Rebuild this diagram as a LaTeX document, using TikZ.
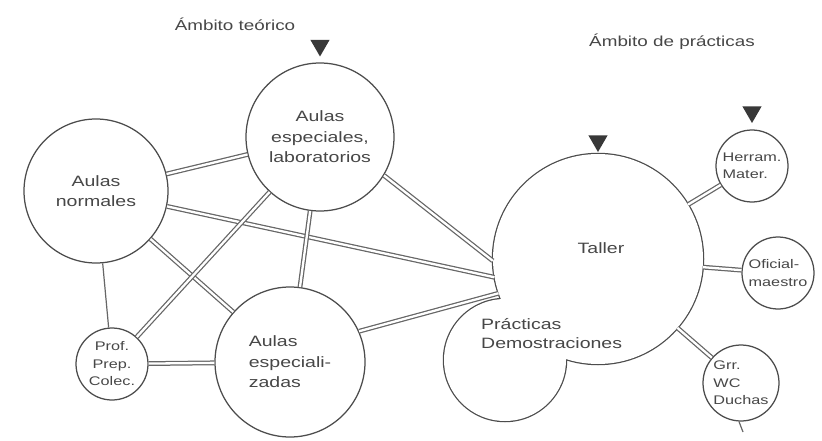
\documentclass[tikz,border=0pt]{standalone}
\usepackage{fontspec}
\usetikzlibrary{shapes.geometric}
\newfontfamily\dfont[FakeStretch=1.3]{Liberation Sans}
\definecolor{ink}{gray}{0.30}
\definecolor{linec}{gray}{0.40}
\definecolor{txtc}{gray}{0.28}
\definecolor{tric}{gray}{0.22}
\tikzset{
  bigc/.style={circle, draw=ink, line width=1.25pt, fill=white, inner sep=0pt,
    text=txtc, font=\dfont\fontsize{15}{20.5}\selectfont},
  smallc/.style={circle, draw=ink, line width=1.25pt, fill=white, inner sep=0pt,
    text=txtc, font=\dfont\fontsize{12.5}{17.5}\selectfont, minimum size=72pt},
  anchorc/.style={circle, inner sep=0pt},
  bigtext/.style={text=txtc, inner sep=0pt, font=\dfont\fontsize{15}{19}\selectfont},
  titletext/.style={text=txtc, inner sep=0pt, font=\dfont\fontsize{14.5}{18}\selectfont},
  dbl/.style={draw=linec, line width=1.25pt, double=white, double distance=2.3pt},
  thinline/.style={draw=linec, line width=1.2pt},
  tri/.style={regular polygon, regular polygon sides=3, shape border rotate=180,
    fill=tric, inner sep=0pt, minimum size=22pt}
}
\begin{document}
\begin{tikzpicture}[x=1pt,y=-1pt]
\useasboundingbox (0,0) rectangle (822,441);
\fill[white] (0,0) rectangle (822,441);

% titles
\node[titletext] (tteo) at (235,24) {Ámbito teórico};
\node[titletext] (tprac) at (672,42) {Ámbito de prácticas};

% invisible anchor circles for the Taller / Prácticas shape
\node[anchorc, minimum size=210pt] (taller) at (598,259) {};
\node[anchorc, minimum size=122pt] (prac) at (505,360) {};

% combined outline of Taller and Prácticas
\draw[ink, line width=2.5pt] (taller.center) circle[radius=105pt];
\draw[ink, line width=2.5pt] (prac.center) circle[radius=61pt];
\fill[white] (taller.center) circle[radius=105pt];
\fill[white] (prac.center) circle[radius=61pt];

% circles
\node[bigc, minimum size=144pt, align=center] (norm) at (96,191) {Aulas\\normales};
\node[bigc, minimum size=148pt, align=center] (esplab) at (320,137) {Aulas\\especiales,\\laboratorios};
\node[bigc, minimum size=150pt, align=left] (espz) at (290,362) {Aulas\\especiali-\\zadas};
\node[smallc, align=center] (prof) at (112,364) {Prof.\\Prep.\\Colec.};
\node[smallc, align=left] (herr) at (752,166) {Herram.\\Mater.};
\node[smallc, align=left] (ofic) at (778,273) {Oficial-\\maestro};
\node[smallc, minimum size=76pt, align=left] (grr) at (741,383) {Grr.\\WC\\Duchas};

% texts of the Taller shape
\node[bigtext] (tallertxt) at (601,248) {Taller};
\node[bigtext, anchor=west, align=left] (practxt) at (481,334) {Prácticas\\Demostraciones};

% connectors
\draw[dbl] (norm) -- (esplab);
\draw[dbl] (norm) -- (taller.190);
\draw[dbl] (norm) -- (espz);
\draw[thinline] (norm) -- (prof);
\draw[dbl] (prof) -- (esplab);
\draw[dbl] (prof) -- (espz);
\draw[dbl] (esplab) -- (espz);
\draw[dbl] (esplab.-31) -- (taller.181);
\draw[dbl] (espz.24) -- (taller.199);
\draw[dbl] (taller) -- (herr);
\draw[dbl] (taller) -- (ofic);
\draw[dbl] (taller) -- (grr);
\coordinate (grrtail) at (743,432);
\draw[thinline] (grr.267) -- (grrtail);

% triangles
\node[tri] (tri1) at (320,45.5) {};
\node[tri] (tri2) at (598,141) {};
\node[tri] (tri3) at (752,112) {};
\end{tikzpicture}
\end{document}
